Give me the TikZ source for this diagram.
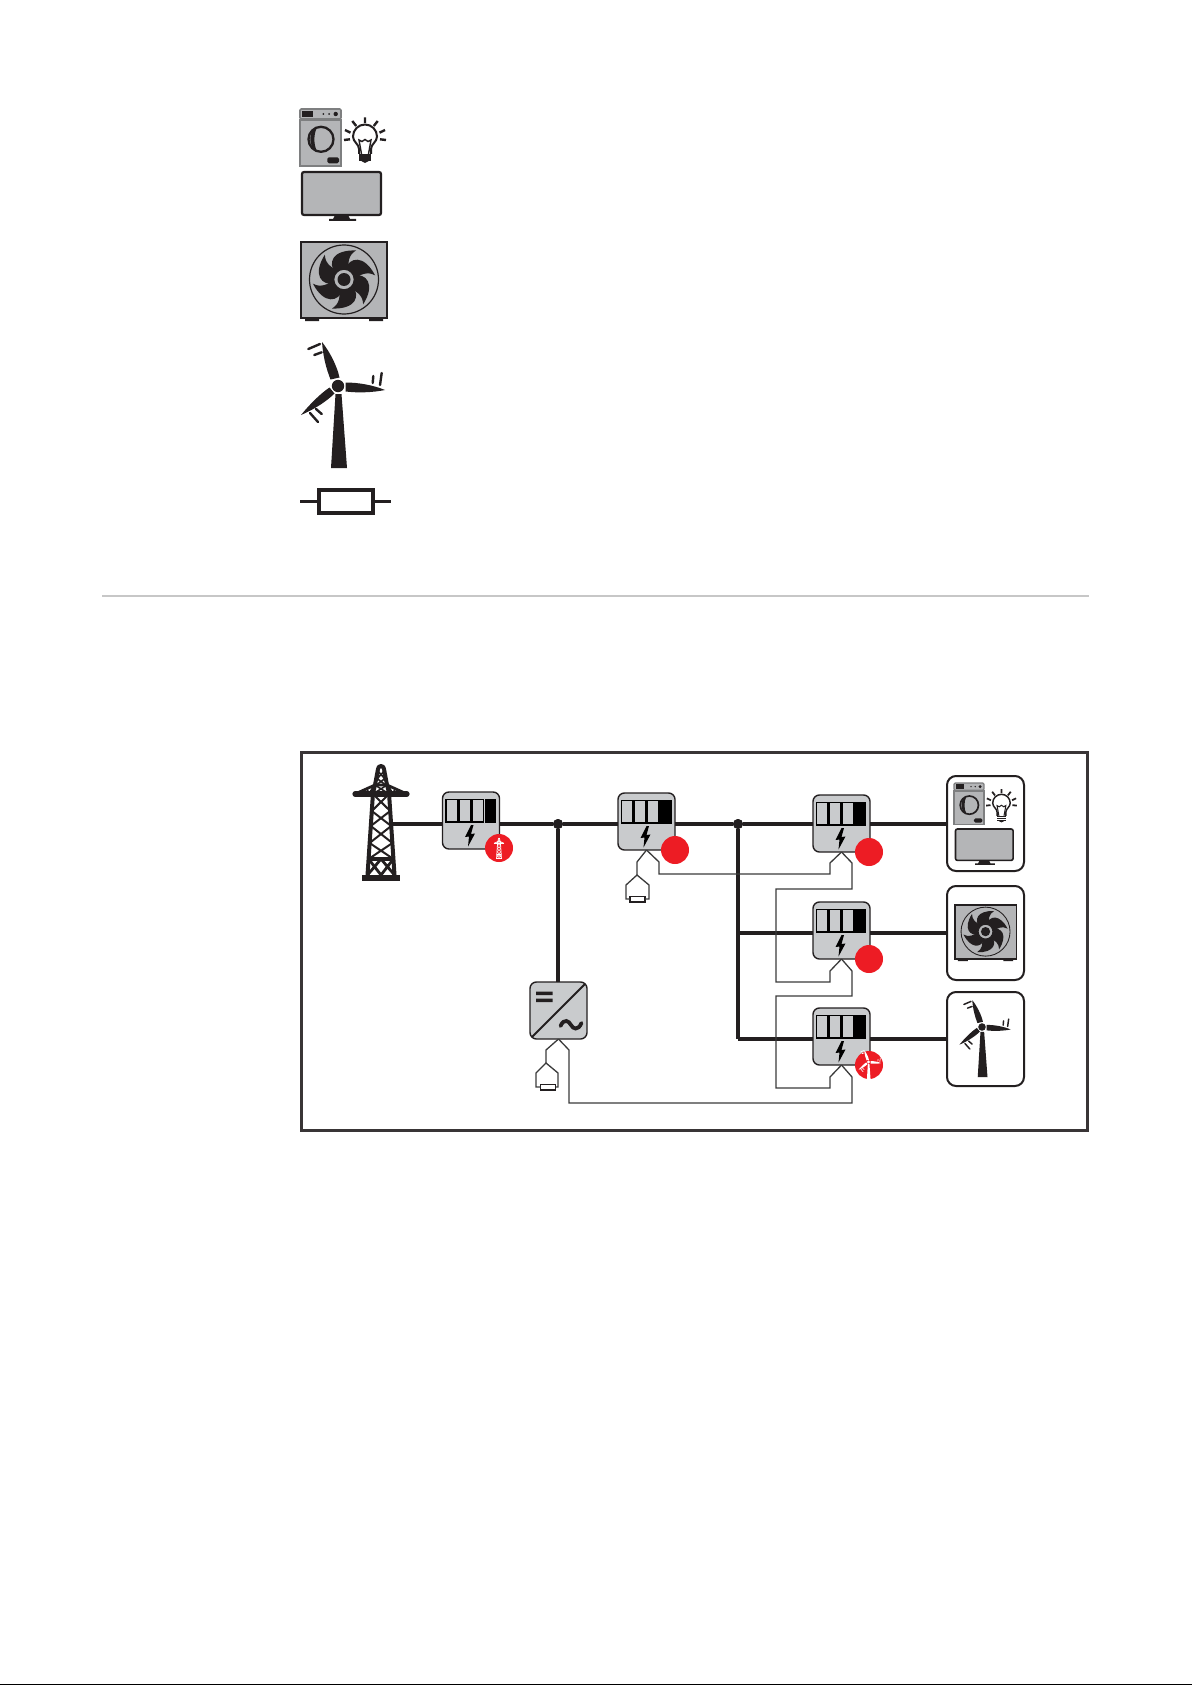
\documentclass[tikz,border=0pt]{standalone}
\usetikzlibrary{calc}
\definecolor{ink}{HTML}{231F20}
\definecolor{wirec}{HTML}{3A3A3A}
\definecolor{metergray}{HTML}{C9CBCD}
\definecolor{appgray}{HTML}{B4B5B7}
\definecolor{alert}{HTML}{ED1C24}
\tikzset{
  power/.style={draw=ink,line width=2.3pt},
  wire/.style={draw=wirec,line width=.65pt,line join=miter},
  meterbox/.style={draw=ink,fill=metergray,line width=.7pt,rounded corners=3.2pt,minimum width=28.5pt,minimum height=28.5pt,inner sep=0pt,outer sep=0pt},
  redbadge/.style={circle,fill=alert,minimum size=14pt,inner sep=0pt,outer sep=0pt},
  dotnode/.style={circle,fill=ink,minimum size=5pt,inner sep=0pt,outer sep=0pt},
  loadbox/.style={draw=ink,fill=white,line width=1pt,rounded corners=4.5pt,minimum width=38.5pt,inner sep=0pt,outer sep=0pt},
  fusebox/.style={draw=ink,fill=white,line width=.7pt,minimum width=7.5pt,minimum height=2.8pt,inner sep=0pt,outer sep=0pt},
  ghost/.style={inner sep=0pt,outer sep=0pt,minimum width=10pt,minimum height=10pt},
  bar/.style={draw=black,line width=.65pt,fill=metergray}
}
% origin: top-left of washer
\newcommand{\ApplianceIcon}[3]{%
\begin{scope}[shift={(#1,#2)},scale=#3]
  \def\k{#3}
  \draw[fill=appgray,draw=appgray!70!black,line width=\k*.8pt,rounded corners=.6pt] (0,0) rectangle (41,10);
  \fill[ink] (2.3,2) rectangle (13.3,8.3);
  \fill[ink] (23.3,5) circle (1) (29,5) circle (1) (35.7,5) circle (2.2);
  \draw[fill=appgray,draw=appgray!70!black,line width=\k*.8pt] (0,11) rectangle (41,57);
  \draw[ink,fill=appgray,line width=\k*1.15pt] (21,30.3) circle (12.5);
  \fill[ink] (17,18.5) .. controls (8,21) and (8,39) .. (17,42) .. controls (13.5,36) and (13.5,25) .. (17,18.5) -- cycle;
  \fill[ink,rounded corners=.8pt] (27.3,48.3) rectangle (39,54.3);
  % bulb
  \begin{scope}[shift={(65,28)}]
    \draw[ink,line width=\k*1pt] (-6,17) -- (-6,12) .. controls (-6,7) and (-12,5) .. (-12,-.5) arc[start angle=180,end angle=360,radius=12] .. controls (12,5) and (6,7) .. (6,12) -- (6,17);
    \draw[ink,line width=\k*.7pt] (-3.5,17) -- (-6,3) -- (-3,4.5) -- (0,2.5) -- (3,4.5) -- (6,3) -- (3.5,17);
    \foreach \yy in {18,20.6,23.2}{\draw[ink,line width=\k*1.1pt] (-6,\yy) -- (6,\yy);}
    \fill[ink] (-3.5,24.2) -- (3.5,24.2) -- (0,26) -- cycle;
    \draw[ink,line width=\k*1.2pt] (0,-19.5) -- (0,-14)
       (-12.7,-16) -- (-8.8,-11) (12.7,-16) -- (8.8,-11)
       (-20,-7) -- (-14.5,-4.3) (20,-7) -- (14.5,-4.3)
       (-21,3) -- (-15,2.3) (21,3) -- (15,2.3);
  \end{scope}
  % television
  \draw[ink,fill=appgray,line width=\k*1.1pt,rounded corners=1pt] (2,63) rectangle (81,106);
  \fill[ink] (35,106) -- (48,106) -- (50,110) -- (56,110) -- (56,112) -- (29,112) -- (29,110) -- (33,110) -- cycle;
\end{scope}}
% origin: top-left of heat pump box
\newcommand{\FanIcon}[3]{%
\begin{scope}[shift={(#1,#2)},scale=#3]
  \def\k{#3}
  \draw[ink,fill=appgray,line width=\k*.8pt] (0,0) rectangle (86,76);
  \fill[ink] (4,76) rectangle (18,79) (68,76) rectangle (82,79);
  \begin{scope}[shift={(43,37.5)}]
    \draw[ink,line width=\k*.6pt] (0,0) circle (34.5);
    \foreach \aa in {0,60,...,300}{
      \fill[ink,rotate=\aa] (-8,-6) .. controls (-17,-16) and (-12,-30) .. (12,-29) .. controls (5,-25) and (3,-17) .. (5.5,-8) -- cycle;}
    \draw[ink,fill=appgray,line width=\k*.8pt] (0,0) circle (10.5);
    \fill[ink] (0,0) circle (6.5);
  \end{scope}
\end{scope}}
% origin: hub
\newcommand{\TurbineIcon}[4]{%
\begin{scope}[shift={(#1,#2)},scale=#3]
  \def\k{#3}
  \fill[#4] (0,0) circle (6.2);
  \fill[#4] (-16,-44) .. controls (-15,-30) and (-12,-18) .. (-7.5,-6.5) -- (1.5,-8.5) .. controls (-1,-20) and (-8,-34) .. (-16,-44) -- cycle;
  \fill[#4] (47,4) .. controls (35,-1) and (20,-3.5) .. (7.5,-3.5) -- (7.5,5.5) .. controls (20,7) and (35,6.5) .. (47,4) -- cycle;
  \fill[#4] (-37,29) .. controls (-28,18) and (-18,8) .. (-8.5,1.5) -- (-3.5,7.5) .. controls (-11,15) and (-23,23) .. (-37,29) -- cycle;
  \fill[#4] (-2.5,8) -- (3.5,8) -- (9,82) -- (-7,82) -- cycle;
  \draw[#4,line width=\k*1.2pt,line cap=round] (-29.7,-37) -- (-18,-42) (-23.7,-31) -- (-16.3,-33.7);
  \draw[#4,line width=\k*1.2pt,line cap=round] (34.7,-3) -- (35.3,-10) (42,-1) -- (43.7,-13);
  \draw[#4,line width=\k*1.2pt,line cap=round] (-28,27) -- (-20,36) (-22,23) -- (-16.3,28);
\end{scope}}
% origin: apex of pylon
\newcommand{\PylonIcon}[4]{%
\begin{scope}[shift={(#1,#2)},scale=#3]
  \def\k{#3}
  \begin{scope}[#4,line width=\k*1.4pt,line join=round]
    \draw[line width=\k*2pt] (-13.5,109) -- (-8,27) -- (-6,19) -- (-3,3) arc[start angle=180,end angle=360,radius=3] -- (6,19) -- (8,27) -- (13.5,109);
    \draw[line width=\k*2.6pt,line cap=round] (-26,28) -- (26,28);
    \draw[line width=\k*1.4pt] (-26,28) -- (-6,19) -- (6,19) -- (26,28);
    \draw[line width=\k*.8pt] (-20,28) -- (-14,22.5) -- (-12,28) -- (-8,21) -- (-6,28) (20,28) -- (14,22.5) -- (12,28) -- (8,21) -- (6,28);
    \draw[line width=\k*.8pt] (-4.5,12) -- (4.5,19) (4.5,12) -- (-4.5,19) (-3.2,5) -- (3.2,12) (3.2,5) -- (-3.2,12) (-6,19) -- (8,28) (6,19) -- (-8,28);
    \draw[line width=\k*1pt] (-8,28) -- (9.2,45) (8,28) -- (-9.2,45) (-9.2,45) -- (10.2,60) (9.2,45) -- (-10.2,60) (-10.2,60) -- (11.4,77) (10.2,60) -- (-11.4,77) (-11.4,77) -- (12.4,93) (11.4,77) -- (-12.4,93);
    \draw[line width=\k*1.6pt] (-12.4,93) -- (12.4,93);
    \draw[line width=\k*1.4pt] (-13.5,109) -- (0,93) -- (13.5,109) (-12.4,93) -- (0,109) -- (12.4,93);
    \fill (-19,109) rectangle (19,115);
  \end{scope}
\end{scope}}
% meter face: node name, left and right of the black bar
\newcommand{\MeterFace}[3]{%
\begin{scope}[shift={(#1.north west)}]
  \draw[bar] (3.5,7.5) rectangle (15,30);
  \draw[bar] (16.5,7.5) rectangle (28,30);
  \draw[bar] (29.5,7.5) rectangle (41,30);
  \fill[black] (#2,7) rectangle (#3,30.5);
  \fill[black] (28.5,33) -- (22.5,45) -- (26.5,44.5) -- (25.5,54.5) -- (32.5,41.5) -- (28.5,42) -- (31,33) -- cycle;
\end{scope}}
\begin{document}
\begin{tikzpicture}[x=.5pt,y=-.5pt]
\useasboundingbox (0,0) rectangle (1192,1685);
% page edge
\fill[black] (0,1683.5) rectangle (1192,1685);
% legend
\ApplianceIcon{300}{109}{1}
\FanIcon{301}{242}{1}
\TurbineIcon{338}{386}{1}{ink}
\node[draw=ink,fill=white,line width=2pt,minimum width=27pt,minimum height=11.5pt,inner sep=0pt] (legfuse) at (346,501.5) {};
\coordinate (legl) at (300,501.5);
\coordinate (legr) at (391,501.5);
\draw[ink,line width=1.7pt] (legl) -- (legfuse.west) (legfuse.east) -- (legr);
% section rule
\draw[draw=black!22,line width=.7pt] (102,596) -- (1089,596);
% frame
\draw[draw=ink!90,line width=1.3pt] (301.5,752.5) rectangle (1087.5,1130.5);
% nodes
\node[ghost,minimum width=10pt] (tw) at (381,824) {};
\node[meterbox] (m1) at (471,820.5) {};
\node[meterbox] (m2) at (646.5,821.5) {};
\node[meterbox] (m3) at (841.5,823.5) {};
\node[meterbox] (m4) at (841.5,930.5) {};
\node[meterbox] (m5) at (841.5,1036.5) {};
\node[meterbox] (inv) at (558.5,1010.5) {};
\node[dotnode] (j1) at (558,824) {};
\node[dotnode] (j2) at (738,824) {};
\node[loadbox,minimum height=47.5pt] (l1) at (985.5,823.5) {};
\node[loadbox,minimum height=47pt] (l2) at (985.5,933) {};
\node[loadbox,minimum height=47pt] (l3) at (985.5,1039) {};
% power lines
\coordinate (c3) at (738,933);
\coordinate (c4) at (738,1039);
\draw[power] (tw.east |- j1) -- (m1.west |- j1);
\draw[power] (m1.east |- j1) -- (j1) -- (m2.west |- j1);
\draw[power] (m2.east |- j1) -- (j2) -- (m3.west |- j1);
\draw[power] (m3.east |- j1) -- (l1.west |- j1);
\draw[power] (j1) -- (inv.north -| j1);
\draw[power] (j2) -- (c3) -- (c4);
\draw[power] (c3) -- (m4.west |- c3);
\draw[power] (c4) -- (m5.west |- c4);
\draw[power] (m4.east |- c3) -- (l2.west |- c3);
\draw[power] (m5.east |- c4) -- (l3.west |- c4);
% redraw junction dots and meters above lines
\node[dotnode] at (j1) {};
\node[dotnode] at (j2) {};
% fuses
\node[fusebox] (f1) at (637.5,899) {};
\node[fusebox] (f2) at (548,1087) {};
% wires
\coordinate (a2) at (637,875);
\coordinate (a6) at (546,1063);
\draw[wire] (m2.south) -- (659,862) -- (659,874) -- (830,874) -- (830,863) -- (m3.south);
\draw[wire] (m2.south) -- (637,862) -- (a2);
\draw[wire] (f1.west) -- (626,899) -- (626,885) -- (a2) -- (649,885) -- (649,899) -- (f1.east);
\draw[wire] (m3.south) -- (852,863) -- (852,889) -- (776,889) -- (776,982) -- (830,982) -- (830,971) -- (m4.south);
\draw[wire] (m4.south) -- (852,971) -- (852,996) -- (776,996) -- (776,1088) -- (830,1088) -- (830,1077) -- (m5.south);
\draw[wire] (m5.south) -- (852,1077) -- (852,1103) -- (569,1103) -- (569,1050) -- (inv.south);
\draw[wire] (inv.south) -- (546,1050) -- (a6);
\draw[wire] (f2.west) -- (536,1087) -- (536,1073) -- (a6) -- (558,1073) -- (558,1087) -- (f2.east);
% meter faces
\MeterFace{m1}{42}{53}
\MeterFace{m2}{41}{54}
\MeterFace{m3}{42}{53}
\MeterFace{m4}{42}{53}
\MeterFace{m5}{42}{53}
% inverter face
\draw[ink,line width=1pt] ($(inv.south west)+(2,-2)$) -- ($(inv.north east)+(-2,2)$);
\fill[ink] (536,991.5) rectangle (552.5,995) (536,998.5) rectangle (552.5,1002);
\draw[ink,line width=1.9pt,line cap=round] (560.5,1026) .. controls (564,1018) and (569,1021) .. (571,1025) .. controls (573,1029) and (578,1031) .. (581.5,1023);
% red badges
\node[redbadge] (r1) at (499,848) {};
\node[redbadge] (r2) at (675,850) {};
\node[redbadge] (r3) at (869,852) {};
\node[redbadge] (r4) at (869,959) {};
\node[redbadge] (r5) at (869,1065) {};
\PylonIcon{499}{838}{.18}{white}
\TurbineIcon{868.5}{1062}{.27}{white}
% tower
\PylonIcon{381}{766}{1}{ink}
% load icons
\ApplianceIcon{954}{783}{.73}
\FanIcon{955}{905}{.71}
\TurbineIcon{982}{1027}{.61}{ink}
\end{tikzpicture}
\end{document}
